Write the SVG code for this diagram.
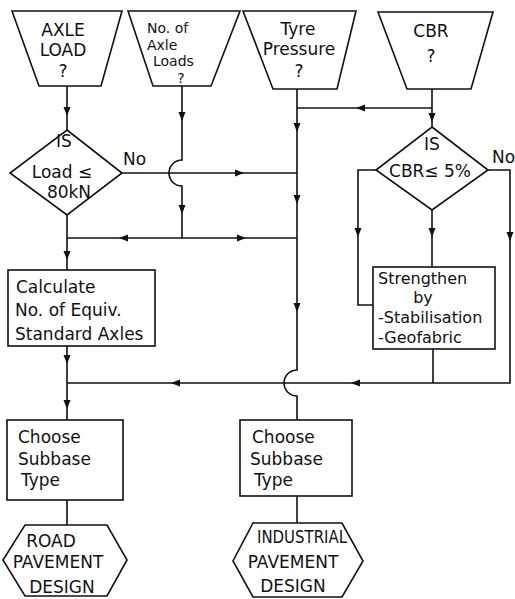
<svg xmlns="http://www.w3.org/2000/svg" width="515" height="599" viewBox="0 0 515 599">
<style>
.s{fill:#fff;stroke:#111;stroke-width:1.6}
.c{fill:none;stroke:#111;stroke-width:1.6}
text{font-family:"DejaVu Sans","Liberation Sans",sans-serif;font-size:17px;fill:#111}
.m{text-anchor:middle}
.sm{font-size:14px}
.st{font-size:16px}
</style>
<defs>
<path id="a" d="M0,4 L-3.5,-5 L3.5,-5 Z" fill="#111"/>
</defs>
<g id="connectors">
<path class="c" d="M67,86 V130"/>
<path class="c" d="M67,215 V270"/>
<path class="c" d="M67,238 H297"/>
<path class="c" d="M182,86 V160 A13,13 0 0 0 182,186 V238"/>
<path class="c" d="M122,173 H297"/>
<path class="c" d="M297,89 V370 A13,13 0 0 0 297,396 V420"/>
<path class="c" d="M432,89 V127"/>
<path class="c" d="M432,108 H297"/>
<path class="c" d="M432,210 V267"/>
<path class="c" d="M376,170 H358 V305 H373"/>
<path class="c" d="M488,170 H510 V383 H67"/>
<path class="c" d="M433,349 V383"/>
<path class="c" d="M67,346 V420"/>
<path class="c" d="M67,500 V525"/>
<path class="c" d="M297,496 V523"/>
<use href="#a" x="67" y="112"/>
<use href="#a" x="67" y="256"/>
<use href="#a" x="182" y="117"/>
<use href="#a" x="182" y="210"/>
<use href="#a" x="297" y="128"/>
<use href="#a" x="297" y="200"/>
<use href="#a" x="297" y="308"/>
<use href="#a" x="432" y="118"/>
<use href="#a" x="432" y="233"/>
<use href="#a" x="358" y="233"/>
<use href="#a" x="510" y="237"/>
<use href="#a" x="67" y="360"/>
<use href="#a" x="67" y="405"/>
<use href="#a" transform="translate(123,238) rotate(90)"/>
<use href="#a" transform="translate(242,238) rotate(-90)"/>
<use href="#a" transform="translate(240,173) rotate(-90)"/>
<use href="#a" transform="translate(360,108) rotate(90)"/>
<use href="#a" transform="translate(355,383) rotate(90)"/>
<use href="#a" transform="translate(175,383) rotate(90)"/>
<text x="123" y="165">No</text>
<text x="492" y="163">No</text>
</g>
<g id="axle-load">
<polygon class="s" points="12,11 122,11 101,86 39,86"/>
<text class="m" x="63" y="36">AXLE</text>
<text class="m" x="63" y="56">LOAD</text>
<text class="m" x="63" y="77">?</text>
</g>
<g id="no-axle-loads">
<polygon class="s" points="128,11 240,11 211,86 153,86"/>
<text class="sm" x="147" y="33">No. of</text>
<text class="sm" x="147" y="49.5">Axle</text>
<text class="sm" x="153" y="66">Loads</text>
<text class="sm m" x="181" y="82.5">?</text>
</g>
<g id="tyre-pressure">
<polygon class="s" points="243,11 356,11 337,89 273,89"/>
<text class="m" x="298" y="35">Tyre</text>
<text class="m" x="299" y="55">Pressure</text>
<text class="m" x="299" y="77">?</text>
</g>
<g id="cbr">
<polygon class="s" points="378,12 493,12 471,89 407,89"/>
<text class="m" x="431" y="37">CBR</text>
<text class="m" x="431" y="62">?</text>
</g>
<g id="load-check">
<polygon class="s" points="67,130 122,173 67,215 10,173"/>
<text class="m" x="64" y="147">IS</text>
<text class="m" x="62" y="178">Load ≤</text>
<text class="m" x="69" y="198">80kN</text>
</g>
<g id="cbr-check">
<polygon class="s" points="432,127 488,170 432,210 376,170"/>
<text class="m" x="432" y="150">IS</text>
<text class="m" x="430" y="177">CBR≤ 5%</text>
</g>
<g id="calculate">
<rect class="s" x="8" y="270" width="147" height="76"/>
<text x="16" y="293">Calculate</text>
<text x="15" y="316">No. of Equiv.</text>
<text x="15" y="340">Standard Axles</text>
</g>
<g id="strengthen">
<rect class="s" x="373" y="267" width="122" height="82"/>
<text class="st" x="378" y="284">Strengthen</text>
<text class="st m" x="423" y="303">by</text>
<text class="st" x="378" y="323">-Stabilisation</text>
<text class="st" x="378" y="343">-Geofabric</text>
</g>
<g id="choose-road">
<rect class="s" x="7" y="420" width="116" height="80"/>
<text x="18" y="443">Choose</text>
<text x="18" y="465">Subbase</text>
<text x="21" y="486">Type</text>
</g>
<g id="choose-industrial">
<rect class="s" x="240" y="420" width="112" height="76"/>
<text x="252" y="443">Choose</text>
<text x="250" y="465">Subbase</text>
<text x="254" y="486">Type</text>
</g>
<g id="road-design">
<polygon class="s" points="25,525 107,525 127,560 107,596 25,596 3,560"/>
<text class="m" x="51" y="547">ROAD</text>
<text class="m" x="58" y="568">PAVEMENT</text>
<text class="m" x="62" y="593">DESIGN</text>
</g>
<g id="industrial-design">
<polygon class="s" points="253,523 342,523 363,561 342,597 253,597 233,561"/>
<text class="m" x="302" y="543" font-size="15" textLength="90" lengthAdjust="spacingAndGlyphs">INDUSTRIAL</text>
<text class="m" x="293" y="568">PAVEMENT</text>
<text class="m" x="293" y="592">DESIGN</text>
</g>
</svg>
